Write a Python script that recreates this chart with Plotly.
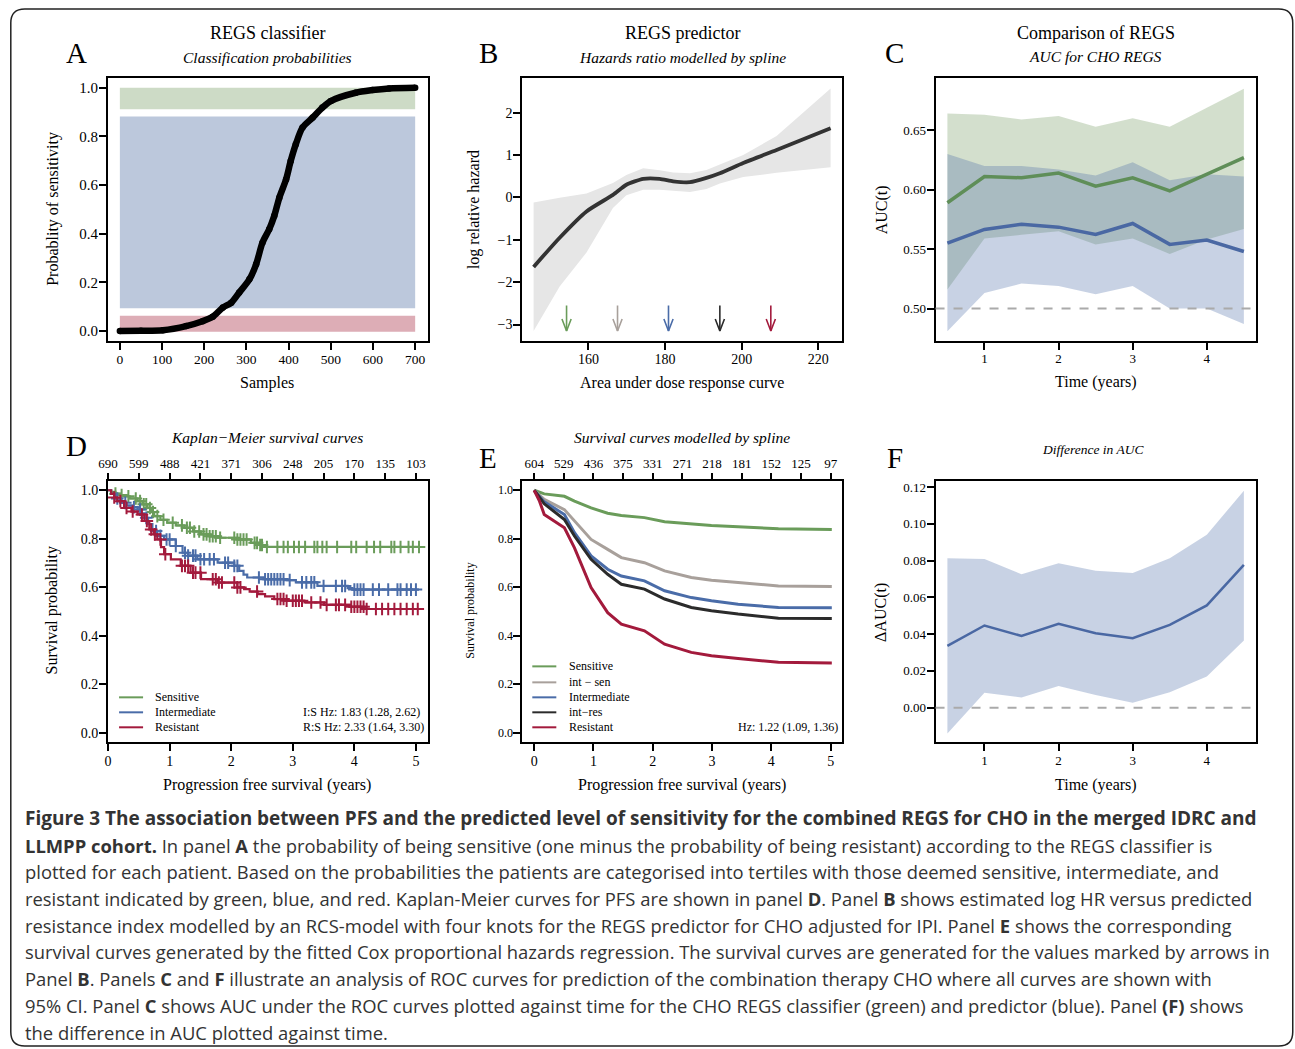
import numpy as np
import plotly.graph_objects as go

W, H = 1295, 1049

# ---------------- DATA ----------------
# Panel A: sorted classification probabilities (sample index, probability)
a_sample = [0, 50, 102, 157, 196, 220, 244, 264, 283, 307, 323, 338, 354, 366, 378, 394, 405, 417, 433, 457, 480, 500, 559, 599, 638, 700]
a_prob = [0.0, 0.001, 0.003, 0.02, 0.04, 0.058, 0.096, 0.116, 0.158, 0.212, 0.274, 0.363, 0.418, 0.473, 0.548, 0.623, 0.699, 0.767, 0.836, 0.877, 0.918, 0.945, 0.979, 0.990, 0.997, 1.0]
a_band_names = ["Sensitive", "Intermediate", "Resistant"]
a_band_lo = [0.911, 0.093, -0.003]
a_band_hi = [1.0, 0.881, 0.062]
a_band_x = [0, 700]

# Panel B: spline log relative hazard
b_x = [145.7, 152.5, 159.5, 166.4, 169.9, 174.3, 178.6, 182.1, 186.5, 190.8, 194.3, 200.4, 209.1, 223.2]
b_fit = [-1.64, -0.95, -0.33, 0.06, 0.30, 0.44, 0.44, 0.38, 0.36, 0.46, 0.57, 0.81, 1.12, 1.63]
b_upper = [-0.12, -0.01, 0.09, 0.34, 0.53, 0.69, 0.64, 0.59, 0.57, 0.65, 0.78, 1.0, 1.45, 2.57]
b_lower = [-3.15, -2.10, -1.30, -0.25, 0.05, 0.18, 0.18, 0.16, 0.13, 0.20, 0.33, 0.48, 0.58, 0.71]
b_arrow_x = [154.3, 167.6, 180.9, 194.3, 207.6]
b_arrow_top, b_arrow_bot = -2.55, -3.15

# Panel C: AUC(t)
c_time = [0.5, 1.0, 1.5, 2.0, 2.5, 3.0, 3.5, 4.0, 4.5]
c_cls = [0.589, 0.611, 0.610, 0.614, 0.603, 0.610, 0.599, 0.613, 0.627]
c_cls_hi = [0.664, 0.663, 0.659, 0.662, 0.653, 0.660, 0.653, 0.669, 0.685]
c_cls_lo = [0.516, 0.559, 0.562, 0.565, 0.554, 0.559, 0.546, 0.558, 0.567]
c_prd = [0.555, 0.5666, 0.571, 0.5685, 0.5624, 0.5716, 0.554, 0.5576, 0.548]
c_prd_hi = [0.630, 0.620, 0.620, 0.617, 0.612, 0.623, 0.608, 0.613, 0.611]
c_prd_lo = [0.481, 0.513, 0.521, 0.519, 0.512, 0.519, 0.500, 0.500, 0.487]

# Panel F: difference in AUC
f_diff = [0.0336, 0.0447, 0.0390, 0.0456, 0.0405, 0.0378, 0.0450, 0.0556, 0.0777]
f_hi = [0.0813, 0.0808, 0.0726, 0.0786, 0.0744, 0.0732, 0.0813, 0.0940, 0.1180]
f_lo = [-0.0140, 0.0082, 0.0056, 0.0118, 0.0069, 0.0027, 0.0084, 0.0169, 0.0365]

# Panel D: Kaplan-Meier step curves
d_sen_t = [0, 0.05, 0.12, 0.2, 0.26, 0.35, 0.48, 0.56, 0.64, 0.7, 0.75, 0.85, 0.96, 1.1, 1.24, 1.38, 1.51, 1.65, 1.78, 2.1, 2.32, 2.45, 2.54, 5.05]
d_sen_s = [1.0, 0.993, 0.986, 0.98, 0.975, 0.966, 0.955, 0.942, 0.927, 0.91, 0.893, 0.878, 0.866, 0.855, 0.845, 0.83, 0.818, 0.81, 0.804, 0.797, 0.783, 0.774, 0.766, 0.766]
d_int_t = [0, 0.05, 0.12, 0.21, 0.3, 0.4, 0.48, 0.54, 0.59, 0.65, 0.72, 0.8, 0.91, 1.1, 1.21, 1.3, 1.45, 1.78, 2.05, 2.13, 2.2, 2.26, 2.54, 2.91, 3.05, 3.4, 3.89, 3.97, 5.05]
d_int_s = [1.0, 0.985, 0.966, 0.948, 0.938, 0.93, 0.92, 0.905, 0.886, 0.86, 0.832, 0.812, 0.797, 0.77, 0.742, 0.73, 0.715, 0.701, 0.688, 0.667, 0.652, 0.64, 0.633, 0.629, 0.62, 0.605, 0.596, 0.59, 0.59]
d_res_t = [0, 0.05, 0.1, 0.15, 0.26, 0.38, 0.48, 0.59, 0.67, 0.74, 0.8, 0.86, 0.91, 1.02, 1.18, 1.34, 1.51, 1.78, 2.1, 2.21, 2.3, 2.43, 2.55, 2.7, 2.86, 3.19, 3.51, 3.94, 4.16, 5.05]
d_res_s = [1.0, 0.985, 0.97, 0.955, 0.927, 0.912, 0.9, 0.873, 0.838, 0.818, 0.797, 0.765, 0.736, 0.715, 0.688, 0.66, 0.633, 0.619, 0.599, 0.592, 0.582, 0.571, 0.562, 0.551, 0.544, 0.537, 0.527, 0.519, 0.51, 0.51]
d_sen_cens = [0.12, 0.22, 0.33, 0.45, 0.52, 0.58, 0.62, 0.68, 0.73, 0.8, 0.9, 1.05, 1.2, 1.28, 1.33, 1.4, 1.48, 1.55, 1.6, 1.65, 1.7, 1.75, 1.82, 2.05, 2.1, 2.15, 2.2, 2.25, 2.38, 2.42, 2.47, 2.5, 2.58, 2.75, 2.85, 2.92, 3.02, 3.1, 3.2, 3.35, 3.4, 3.48, 3.55, 3.72, 3.95, 4.03, 4.2, 4.32, 4.42, 4.6, 4.65, 4.75, 4.88, 4.95, 5.05]
d_int_cens = [0.15, 0.28, 0.42, 0.52, 0.62, 0.78, 0.85, 0.95, 1.0, 1.1, 1.25, 1.3, 1.38, 1.42, 1.5, 1.56, 1.65, 1.72, 1.9, 1.95, 2.05, 2.1, 2.45, 2.55, 2.6, 2.65, 2.7, 2.75, 2.8, 2.85, 2.95, 3.15, 3.22, 3.3, 3.35, 3.5, 3.7, 3.8, 3.85, 4.0, 4.05, 4.1, 4.15, 4.3, 4.4, 4.55, 4.7, 4.75, 4.85, 4.92, 5.0]
d_res_cens = [0.1, 0.2, 0.3, 0.4, 0.55, 0.63, 0.7, 0.76, 0.85, 0.93, 1.2, 1.25, 1.3, 1.38, 1.42, 1.5, 1.7, 1.75, 1.8, 1.85, 2.05, 2.1, 2.15, 2.42, 2.75, 2.8, 2.85, 2.9, 3.0, 3.05, 3.1, 3.15, 3.3, 3.45, 3.55, 3.7, 3.75, 3.85, 3.95, 4.0, 4.05, 4.1, 4.15, 4.2, 4.35, 4.45, 4.55, 4.65, 4.75, 4.85, 4.95, 5.03]
d_risk_t = [0, 0.5, 1, 1.5, 2, 2.5, 3, 3.5, 4, 4.5, 5]
d_risk_n = ["690", "599", "488", "421", "371", "306", "248", "205", "170", "135", "103"]

# Panel E: model-based survival curves
e_t = [0, 0.09, 0.17, 0.51, 0.68, 0.96, 1.24, 1.47, 1.86, 2.2, 2.65, 2.99, 3.44, 4.12, 5.02]
e_sen = [1.0, 0.992, 0.985, 0.975, 0.955, 0.927, 0.905, 0.896, 0.887, 0.870, 0.860, 0.855, 0.849, 0.841, 0.838]
e_isen = [1.0, 0.980, 0.962, 0.920, 0.873, 0.797, 0.756, 0.722, 0.701, 0.667, 0.640, 0.629, 0.619, 0.605, 0.603]
e_int = [1.0, 0.975, 0.952, 0.900, 0.825, 0.729, 0.674, 0.646, 0.626, 0.585, 0.557, 0.544, 0.530, 0.516, 0.515]
e_ires = [1.0, 0.970, 0.944, 0.879, 0.811, 0.715, 0.653, 0.612, 0.592, 0.551, 0.516, 0.503, 0.489, 0.472, 0.471]
e_res = [1.0, 0.955, 0.900, 0.845, 0.762, 0.598, 0.495, 0.447, 0.420, 0.365, 0.331, 0.317, 0.306, 0.290, 0.287]
e_risk_n = ["604", "529", "436", "375", "331", "271", "218", "181", "152", "125", "97"]

# ---------------- STYLE ----------------
SERIF = "Liberation Serif"
GREEN, BLUE, RED = "#6a9c5a", "#4a6ca8", "#a31a3c"
GREY_E, BLACK_E = "#a8a09b", "#2b2b2b"

# the page is photographed with a slight horizontal offset/compression; compensate
OFF, SCL = 11.0, 0.9917

def px(x):
    return ((x - OFF) / SCL) / W

def py(y):
    return 1 - y / H

fig = go.Figure()

cols = [(109, 429), (523, 843), (936, 1256)]
rows = [(77, 340), (480, 742)]

def axstyle(fs, **kw):
    d = dict(showline=True, mirror=True, linecolor="black", linewidth=2,
             ticks="outside", ticklen=7, tickwidth=1.5, tickcolor="black",
             showgrid=False, zeroline=False, ticklabelstandoff=-2,
             tickfont=dict(family=SERIF, size=fs, color="black"))
    d.update(kw)
    return d

layout = {}
panels = [
    (0, 0, [-28, 731], [0, 100, 200, 300, 400, 500, 600, 700], 13.5, [-0.04, 1.04], [0, 0.2, 0.4, 0.6, 0.8, 1.0], ".1f", 15),
    (1, 0, [142.75, 226.3], [160, 180, 200, 220], 14, [-3.38, 2.82], [-3, -2, -1, 0, 1, 2], "d", 14),
    (2, 0, [0.34, 4.66], [1, 2, 3, 4], 13, [0.473, 0.694], [0.50, 0.55, 0.60, 0.65], ".2f", 13),
    (0, 1, [0, 5.2], [0, 1, 2, 3, 4, 5], 14, [-0.04, 1.04], [0, 0.2, 0.4, 0.6, 0.8, 1.0], ".1f", 14),
    (1, 1, [-0.2, 5.2], [0, 1, 2, 3, 4, 5], 14, [-0.04, 1.04], [0, 0.2, 0.4, 0.6, 0.8, 1.0], ".1f", 12),
    (2, 1, [0.34, 4.66], [1, 2, 3, 4], 13, [-0.0188, 0.1235], [0, 0.02, 0.04, 0.06, 0.08, 0.10, 0.12], ".2f", 13),
]
for i, (c, r, xr, xt, xfs, yr, yt, yf, yfs) in enumerate(panels, start=1):
    sfx = "" if i == 1 else str(i)
    layout["xaxis" + sfx] = axstyle(xfs, domain=[px(cols[c][0]), px(cols[c][1])], range=xr,
                                    tickvals=xt, anchor="y" + sfx)
    layout["yaxis" + sfx] = axstyle(yfs, domain=[py(rows[r][1]), py(rows[r][0])], range=yr,
                                    tickvals=yt, tickformat=yf, anchor="x" + sfx)

for ax_name, over, anc, rng, labels in [("xaxis7", "x4", "y4", [0, 5.2], d_risk_n),
                                        ("xaxis8", "x5", "y5", [-0.2, 5.2], e_risk_n)]:
    layout[ax_name] = dict(overlaying=over, side="top", anchor=anc, range=rng,
                           tickvals=d_risk_t, ticktext=labels, ticks="outside", ticklen=7,
                           tickwidth=1.5, tickcolor="black", showline=False, showgrid=False,
                           zeroline=False, ticklabelstandoff=-1,
                           tickfont=dict(family=SERIF, size=13, color="black"))

# ---------------- Panel A ----------------
band_cols = ["#cddbc6", "#bcc8dc", "#ddadb6"]
for lo, hi, col in zip(a_band_lo, a_band_hi, band_cols):
    fig.add_trace(go.Scatter(x=[a_band_x[0], a_band_x[1], a_band_x[1], a_band_x[0]],
                             y=[lo, lo, hi, hi], fill="toself", fillcolor=col,
                             mode="none", hoverinfo="skip", xaxis="x", yaxis="y"))
fig.add_trace(go.Scatter(x=a_sample, y=a_prob, mode="lines+markers",
                         line=dict(color="black", width=6.5, shape="spline", smoothing=0.8),
                         marker=dict(color="black", size=6.5), xaxis="x", yaxis="y"))

# ---------------- Panel B ----------------
fig.add_trace(go.Scatter(x=b_x + b_x[::-1], y=b_upper + b_lower[::-1], fill="toself",
                         fillcolor="#e6e6e6", mode="none", xaxis="x2", yaxis="y2"))
fig.add_trace(go.Scatter(x=b_x, y=b_fit, mode="lines", line=dict(color="#333333", width=3.8,
                         shape="spline", smoothing=0.6), xaxis="x2", yaxis="y2"))
arrow_cols = [GREEN, GREY_E, BLUE, BLACK_E, RED]
dx, dy = 1.2, 0.28
for ax_, col in zip(b_arrow_x, arrow_cols):
    fig.add_trace(go.Scatter(
        x=[ax_, ax_, None, ax_ - dx, ax_, ax_ + dx],
        y=[b_arrow_top, b_arrow_bot, None, b_arrow_bot + dy, b_arrow_bot, b_arrow_bot + dy],
        mode="lines", line=dict(color=col, width=1.6), xaxis="x2", yaxis="y2"))

# ---------------- Panel C ----------------
fig.add_trace(go.Scatter(x=c_time + c_time[::-1], y=c_cls_hi + c_cls_lo[::-1], fill="toself",
                         fillcolor="rgba(110,150,90,0.30)", mode="none", xaxis="x3", yaxis="y3"))
fig.add_trace(go.Scatter(x=c_time + c_time[::-1], y=c_prd_hi + c_prd_lo[::-1], fill="toself",
                         fillcolor="rgba(74,106,165,0.30)", mode="none", xaxis="x3", yaxis="y3"))
fig.add_trace(go.Scatter(x=c_time, y=c_cls, mode="lines", line=dict(color="#5f8e58", width=3.5),
                         xaxis="x3", yaxis="y3"))
fig.add_trace(go.Scatter(x=c_time, y=c_prd, mode="lines", line=dict(color="#4a68a3", width=3.5),
                         xaxis="x3", yaxis="y3"))

# ---------------- Panel F ----------------
fig.add_trace(go.Scatter(x=c_time + c_time[::-1], y=f_hi + f_lo[::-1], fill="toself",
                         fillcolor="rgba(74,106,165,0.30)", mode="none", xaxis="x6", yaxis="y6"))
fig.add_trace(go.Scatter(x=c_time, y=f_diff, mode="lines", line=dict(color="#4a68a3", width=2.5),
                         xaxis="x6", yaxis="y6"))

# ---------------- Panel D ----------------
def step_lookup(ts, ss, q):
    ts = np.asarray(ts)
    idx = np.searchsorted(ts, np.asarray(q), side="right") - 1
    return np.asarray(ss)[idx]

for ts, ss, cens, col in [(d_sen_t, d_sen_s, d_sen_cens, GREEN),
                          (d_int_t, d_int_s, d_int_cens, BLUE),
                          (d_res_t, d_res_s, d_res_cens, RED)]:
    fig.add_trace(go.Scatter(x=ts, y=ss, mode="lines", line=dict(color=col, width=2.2, shape="hv"),
                             xaxis="x4", yaxis="y4"))
    fig.add_trace(go.Scatter(x=cens, y=step_lookup(ts, ss, cens), mode="markers",
                             marker=dict(symbol="cross-thin", size=9, line=dict(width=2, color=col)),
                             xaxis="x4", yaxis="y4"))
fig.add_trace(go.Scatter(x=[0], y=[1], mode="markers", marker=dict(opacity=0), xaxis="x7", yaxis="y4",
                         hoverinfo="skip"))

# ---------------- Panel E ----------------
for ys, col in [(e_sen, GREEN), (e_isen, GREY_E), (e_int, BLUE), (e_ires, BLACK_E), (e_res, RED)]:
    fig.add_trace(go.Scatter(x=e_t, y=ys, mode="lines", line=dict(color=col, width=3),
                             xaxis="x5", yaxis="y5"))
fig.add_trace(go.Scatter(x=[0], y=[1], mode="markers", marker=dict(opacity=0), xaxis="x8", yaxis="y5",
                         hoverinfo="skip"))

# ---------------- shapes ----------------
shapes = []
x0, y0, x1, y1, r = 11.8, 8, 1293, 1046, 14
X = lambda v: px(v)
Y = lambda v: py(v)
path = (f"M {X(x0+r)},{Y(y0)} L {X(x1-r)},{Y(y0)} Q {X(x1)},{Y(y0)} {X(x1)},{Y(y0+r)} "
        f"L {X(x1)},{Y(y1-r)} Q {X(x1)},{Y(y1)} {X(x1-r)},{Y(y1)} "
        f"L {X(x0+r)},{Y(y1)} Q {X(x0)},{Y(y1)} {X(x0)},{Y(y1-r)} "
        f"L {X(x0)},{Y(y0+r)} Q {X(x0)},{Y(y0)} {X(x0+r)},{Y(y0)} Z")
shapes.append(dict(type="path", path=path, xref="paper", yref="paper",
                   line=dict(color="#222222", width=1.5)))
shapes.append(dict(type="line", xref="x3 domain", yref="y3", x0=0, x1=1, y0=0.5, y1=0.5,
                   line=dict(color="#aaaaaa", width=2, dash="dash")))
shapes.append(dict(type="line", xref="x6 domain", yref="y6", x0=0, x1=1, y0=0, y1=0,
                   line=dict(color="#aaaaaa", width=2, dash="dash")))

annotations = []

def txt(x, y, s, size, italic=False, angle=0, xanchor="center", color="black", family=SERIF):
    annotations.append(dict(x=px(x), y=py(y), xref="paper", yref="paper", text=s, showarrow=False,
                            xanchor=xanchor, yanchor="middle", textangle=angle,
                            font=dict(family=family, size=size, color=color,
                                      style="italic" if italic else "normal")))

for yy, lab, col in [(697, "Sensitive", GREEN), (712, "Intermediate", BLUE), (727, "Resistant", RED)]:
    shapes.append(dict(type="line", xref="paper", yref="paper", x0=px(120), x1=px(144),
                       y0=py(yy), y1=py(yy), line=dict(color=col, width=2)))
    txt(154, yy, lab, 12, xanchor="left")
txt(302, 712, "I:S Hz: 1.83 (1.28, 2.62)", 12, xanchor="left")
txt(302, 727, "R:S Hz: 2.33 (1.64, 3.30)", 12, xanchor="left")

for yy, lab, col in [(666, "Sensitive", GREEN), (682, "int \u2212 sen", GREY_E), (697, "Intermediate", BLUE),
                     (712, "int\u2212res", BLACK_E), (727, "Resistant", RED)]:
    shapes.append(dict(type="line", xref="paper", yref="paper", x0=px(533), x1=px(557),
                       y0=py(yy), y1=py(yy), line=dict(color=col, width=2)))
    txt(568, yy, lab, 12, xanchor="left")
txt(737, 727, "Hz: 1.22 (1.09, 1.36)", 12, xanchor="left")

for (lx, ly, L) in [(77, 52, "A"), (489, 52, "B"), (895, 52, "C"), (77, 445, "D"), (489, 457, "E"), (895, 457, "F")]:
    txt(lx, ly, L, 29)

txt(268, 32, "REGS classifier", 18)
txt(268, 57, "Classification probabilities", 15.5, italic=True)
txt(683, 32, "REGS predictor", 18)
txt(683, 57, "Hazards ratio modelled by spline", 15.5, italic=True)
txt(1096, 32, "Comparison of REGS", 18)
txt(1096, 56, "AUC for CHO REGS", 15.5, italic=True)
txt(268, 437, "Kaplan\u2212Meier survival curves", 15.5, italic=True)
txt(683, 437, "Survival curves modelled by spline", 15.5, italic=True)
txt(1093, 449, "Difference in AUC", 13.5, italic=True)

txt(268, 382, "Samples", 16)
txt(54, 208, "Probablity of sensitivity", 16, angle=-90)
txt(683, 382, "Area under dose response curve", 16)
txt(475, 209, "log relative hazard", 16, angle=-90)
txt(1096, 381, "Time (years)", 16)
txt(882, 209, "AUC(t)", 16, angle=-90)
txt(268, 785, "Progression free survival (years)", 16)
txt(53, 610, "Survival probability", 16, angle=-90)
txt(683, 785, "Progression free survival (years)", 16)
txt(471, 610, "Survival probability", 12, angle=-90)
txt(1096, 785, "Time (years)", 16)
txt(882, 612, "\u0394AUC(t)", 16, angle=-90)

cap_lines = [
    "<b>Figure 3 The association between PFS and the predicted level of sensitivity for the combined REGS for CHO in the merged IDRC and</b>",
    "<b>LLMPP cohort.</b> In panel <b>A</b> the probability of being sensitive (one minus the probability of being resistant) according to the REGS classifier is",
    "plotted for each patient. Based on the probabilities the patients are categorised into tertiles with those deemed sensitive, intermediate, and",
    "resistant indicated by green, blue, and red. Kaplan-Meier curves for PFS are shown in panel <b>D</b>. Panel <b>B</b> shows estimated log HR versus predicted",
    "resistance index modelled by an RCS-model with four knots for the REGS predictor for CHO adjusted for IPI. Panel <b>E</b> shows the corresponding",
    "survival curves generated by the fitted Cox proportional hazards regression. The survival curves are generated for the values marked by arrows in",
    "Panel <b>B</b>. Panels <b>C</b> and <b>F</b> illustrate an analysis of ROC curves for prediction of the combination therapy CHO where all curves are shown with",
    "95% CI. Panel <b>C</b> shows AUC under the ROC curves plotted against time for the CHO REGS classifier (green) and predictor (blue). Panel <b>(F)</b> shows",
    "the difference in AUC plotted against time.",
]
cap_y = [818, 845, 871, 898, 925, 951, 978, 1005, 1032]
cap_size = [19.0, 18.4, 18.4, 18.4, 18.4, 18.4, 18.4, 18.4, 18.4]
for s, yy, fs in zip(cap_lines, cap_y, cap_size):
    txt(24, yy, s, fs, xanchor="left", color="#333333", family="Open Sans")

layout.update(dict(width=W, height=H, autosize=False, margin=dict(l=0, r=0, t=0, b=0, pad=0),
                   paper_bgcolor="white", plot_bgcolor="white", showlegend=False,
                   shapes=shapes, annotations=annotations))
fig.update_layout(**layout)
fig.write_html("out.html",
               config={"displayModeBar": False, "responsive": False},
               default_width="1295px", default_height="1049px",
               post_script=("document.documentElement.style.margin='0';"
                            "document.body.style.margin='0';document.body.style.padding='0';"
                            "document.documentElement.style.overflow='hidden';"
                            "var d=document.getElementById('{plot_id}');"
                            "d.style.position='absolute';d.style.left='0px';d.style.top='0px';"))
